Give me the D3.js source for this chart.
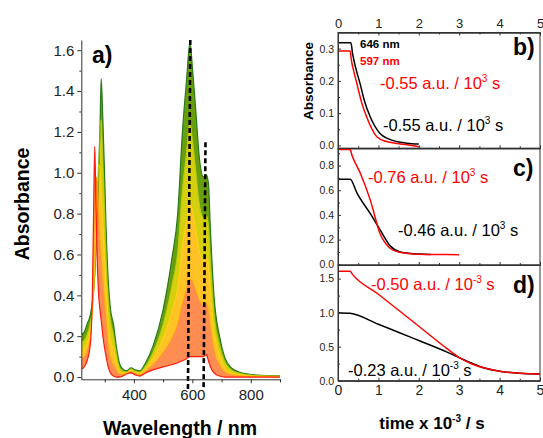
<!DOCTYPE html>
<html>
  <head>
    <meta charset="utf-8">
    <title>Spectra and kinetics</title>
    <style>
      body { margin: 0; background: #fff; }
      text { font-family: "Liberation Sans", Arial, sans-serif; }
      .axis path, .axis line { stroke: #333; stroke-width: 1px; }
      .axis text { fill: #222; }
    </style>
    <script src="https://d3js.org/d3.v7.min.js"></script>
  </head>
  <body>
    <script type="text/javascript">
      // ---- panel a: spectra (wavelength grid + one absorbance array per stage)
      var wl = [222, 230, 240, 250, 254, 258, 262, 266, 270, 274,
                279, 284, 288, 294, 300, 305, 312, 320, 330, 340,
                350, 362, 375, 390, 405, 420, 440, 465, 500, 530,
                550, 566, 580, 592, 600, 612, 625, 638, 648, 655,
                662, 674, 693, 710, 730, 760, 820, 900];
      var specGreen = [0.21, 0.22, 0.26, 0.30, 0.33, 0.37, 0.42, 0.50, 0.62, 0.78,
                       0.98, 1.22, 1.46, 1.25, 0.98, 0.72, 0.48, 0.33, 0.26, 0.15,
                       0.07, 0.04, 0.03, 0.045, 0.035, 0.03, 0.07, 0.15, 0.33, 0.58,
                       0.80, 1.20, 1.45, 1.64, 1.52, 1.30, 1.06, 0.98, 0.99, 0.95,
                       0.72, 0.40, 0.20, 0.10, 0.05, 0.025, 0.01, 0.006];
      var specYellowGreen = [0.17, 0.18, 0.21, 0.26, 0.29, 0.33, 0.40, 0.50, 0.63, 0.78,
                       0.98, 1.20, 1.26, 1.05, 0.82, 0.60, 0.40, 0.28, 0.21, 0.12,
                       0.05, 0.03, 0.025, 0.04, 0.03, 0.025, 0.055, 0.12, 0.26, 0.45,
                       0.62, 0.92, 1.10, 1.25, 1.17, 1.01, 0.84, 0.78, 0.79, 0.75,
                       0.57, 0.32, 0.16, 0.08, 0.04, 0.02, 0.008, 0.005];
      var specYellow = [0.13, 0.14, 0.17, 0.22, 0.26, 0.32, 0.42, 0.56, 0.74, 0.90,
                       1.04, 1.02, 0.92, 0.75, 0.58, 0.44, 0.28, 0.18, 0.14, 0.08,
                       0.03, 0.02, 0.02, 0.035, 0.022, 0.018, 0.04, 0.09, 0.19, 0.32,
                       0.44, 0.64, 0.76, 0.86, 0.82, 0.72, 0.61, 0.57, 0.58, 0.55,
                       0.41, 0.23, 0.11, 0.05, 0.025, 0.012, 0.005, 0.003];
      var specOrange = [0.09, 0.10, 0.13, 0.19, 0.24, 0.36, 0.55, 0.78, 0.98, 0.96,
                       0.80, 0.66, 0.58, 0.46, 0.36, 0.27, 0.16, 0.09, 0.06, 0.035,
                       0.015, 0.012, 0.018, 0.028, 0.016, 0.012, 0.03, 0.06, 0.12, 0.19,
                       0.26, 0.36, 0.43, 0.48, 0.47, 0.42, 0.37, 0.35, 0.36, 0.33,
                       0.24, 0.13, 0.06, 0.025, 0.012, 0.006, 0.002, 0.001];
      var specRed = [0.04, 0.05, 0.08, 0.15, 0.22, 0.42, 0.80, 1.13, 0.85, 0.60,
                       0.41, 0.33, 0.28, 0.20, 0.14, 0.10, 0.05, 0.02, 0.005, 0.0,
                       0.0, 0.005, 0.015, 0.02, 0.01, 0.005, 0.02, 0.035, 0.05, 0.06,
                       0.07, 0.08, 0.09, 0.10, 0.10, 0.10, 0.10, 0.10, 0.11, 0.08,
                       0.05, 0.02, 0.005, 0.0, 0.0, 0.0, 0.0, 0.0];
      var stages = [specGreen, specYellowGreen, specYellow, specOrange, specRed];
      var stageColors = ["#2b7a1a", "#a6c400", "#ffd400", "#ff9c00", "#ff1a0a"];
      var bandOpacity = [1, 0.95, 0.85, 0.7];

      // dashed marker lines at 597 and 646 nm (slightly tilted in the original)
      var markers = [
        {x1: 593, y1: 1.65, x2: 585, y2: -0.07},
        {x1: 645, y1: 1.15, x2: 638.5, y2: -0.065}
      ];

      var xTicksA = [400, 600, 800], xMinorA = [300, 500, 700, 900];
      var yTicksA = [0, 0.2, 0.4, 0.6, 0.8, 1.0, 1.2, 1.4, 1.6];
      var yMinorA = [0.1, 0.3, 0.5, 0.7, 0.9, 1.1, 1.3, 1.5];

      // ---- panels b-d: kinetic traces (time in 10^3 s)
      var bTimeBlack = [0, 0.32, 0.36, 0.45, 0.55, 0.65, 0.8, 1.04, 1.25, 1.45, 1.7, 2.0];
      var bAbsBlack  = [0.318, 0.318, 0.285, 0.235, 0.19, 0.14, 0.088, 0.037, 0.02, 0.012, 0.007, 0.004];
      var bTimeRed   = [0, 0.3, 0.33, 0.4, 0.47, 0.58, 0.71, 0.96, 1.2, 1.45, 1.7, 2.0];
      var bAbsRed    = [0.293, 0.293, 0.265, 0.225, 0.19, 0.135, 0.088, 0.027, 0.012, 0.006, 0.002, -0.004];

      var cTimeBlack = [0, 0.3, 0.47, 0.8, 1.04, 1.29, 1.54, 1.8, 2.04, 2.3];
      var cAbsBlack  = [0.69, 0.69, 0.577, 0.41, 0.28, 0.149, 0.10, 0.088, 0.083, 0.08];
      var cTimeRed   = [0, 0.3, 0.35, 0.55, 0.8, 1.04, 1.29, 1.5, 2.0, 2.5, 3.0];
      var cAbsRed    = [0.93, 0.93, 0.88, 0.74, 0.52, 0.25, 0.13, 0.10, 0.082, 0.079, 0.078];

      var dTimeBlack = [0, 0.3, 1.0, 2.0, 2.7, 3.0, 3.3, 3.6, 4.0, 4.5, 5.0];
      var dAbsBlack  = [1.0, 0.99, 0.83, 0.59, 0.42, 0.34, 0.26, 0.19, 0.14, 0.11, 0.10];
      var dTimeRed   = [0, 0.3, 0.35, 1.0, 2.0, 2.7, 3.0, 3.3, 3.6, 4.0, 4.5, 5.0];
      var dAbsRed    = [1.61, 1.61, 1.57, 1.27, 0.80, 0.47, 0.34, 0.25, 0.19, 0.14, 0.11, 0.10];

      var timeTicks = [0, 1, 2, 3, 4, 5], timeMinor = [0.5, 1.5, 2.5, 3.5, 4.5];

      var svg = d3.select("body").append("svg")
                  .attr("width", 543)
                  .attr("height", 438);
      svg.append("rect").attr("width", 543).attr("height", 438).attr("fill", "#fff");

      // ================= panel a =================
      var xA = d3.scaleLinear().domain([220, 900]).range([81.3, 280]);
      var yA = d3.scaleLinear().domain([-0.011, 1.65]).range([379.3, 40]);
      var idx = d3.range(wl.length);

      for (var k = 0; k < stages.length - 1; k++) {
        var upper = stages[k], lower = stages[k + 1];
        var band = d3.area()
                     .curve(d3.curveMonotoneX)
                     .x(function(i) { return xA(wl[i]); })
                     .y0(function(i) { return yA(lower[i]); })
                     .y1(function(i) { return yA(upper[i]); });
        svg.append("path")
           .attr("d", band(idx))
           .attr("fill", d3.interpolateRgb(stageColors[k], stageColors[k + 1])(0.5))
           .attr("fill-opacity", bandOpacity[k])
           .attr("stroke", "none");
      }
      stages.forEach(function(s, k) {
        var ln = d3.line()
                   .curve(d3.curveMonotoneX)
                   .x(function(i) { return xA(wl[i]); })
                   .y(function(i) { return yA(s[i]); });
        svg.append("path")
           .attr("d", ln(idx))
           .attr("fill", "none")
           .attr("stroke", stageColors[k])
           .attr("stroke-width", k == 0 || k == 4 ? 1.2 : 0.8);
      });

      svg.selectAll(".marker")
         .data(markers)
         .enter().append("line")
           .attr("x1", function(d) { return xA(d.x1); })
           .attr("y1", function(d) { return yA(d.y1); })
           .attr("x2", function(d) { return xA(d.x2); })
           .attr("y2", function(d) { return yA(d.y2); })
           .attr("stroke", "#000")
           .attr("stroke-width", 2.6)
           .attr("stroke-dasharray", "5,3");

      svg.append("g").attr("class", "axis")
         .attr("transform", "translate(" + 81.3 + ",0)")
         .call(d3.axisLeft(yA).tickValues(yTicksA).tickFormat(d3.format(".1f"))
               .tickSizeInner(4).tickSizeOuter(0).tickPadding(3))
         .selectAll("text").style("font-size", "15px");
      svg.append("g").attr("class", "axis")
         .attr("transform", "translate(" + 81.3 + ",0)")
         .call(d3.axisLeft(yA).tickValues(yMinorA).tickFormat("").tickSizeInner(2).tickSizeOuter(0))
         .select(".domain").remove();
      svg.append("g").attr("class", "axis")
         .attr("transform", "translate(0," + 379.3 + ")")
         .call(d3.axisBottom(xA).tickValues(xTicksA).tickFormat(d3.format("d"))
               .tickSizeInner(4).tickSizeOuter(0).tickPadding(6))
         .selectAll("text").style("font-size", "15px");
      svg.append("g").attr("class", "axis")
         .attr("transform", "translate(0," + 379.3 + ")")
         .call(d3.axisBottom(xA).tickValues(xMinorA).tickFormat("").tickSizeInner(3).tickSizeOuter(0))
         .select(".domain").remove();

      svg.append("text").text("a)")
         .attr("x", 92).attr("y", 63)
         .style("font-size", "23px").style("font-weight", "bold");
      svg.append("text").text("Wavelength / nm")
         .attr("x", 180).attr("y", 435).attr("text-anchor", "middle")
         .style("font-size", "19.5px").style("font-weight", "bold");
      svg.append("text").text("Absorbance")
         .attr("transform", "translate(29,204) rotate(-90)").attr("text-anchor", "middle")
         .style("font-size", "19.5px").style("font-weight", "bold");

      // ================= panels b, c, d =================
      var xR = d3.scaleLinear().domain([0, 5]).range([338, 540]);
      var panels = [
        {y: d3.scaleLinear().domain([-0.009, 0.35]).range([148.3, 32.5]),
         ticks: [0, 0.1, 0.2, 0.3], minor: [0.05, 0.15, 0.25],
         black: [bTimeBlack, bAbsBlack], red: [bTimeRed, bAbsRed], label: "b)", labelY: 55},
        {y: d3.scaleLinear().domain([-0.006, 0.94]).range([265, 148.3]),
         ticks: [0, 0.2, 0.4, 0.6, 0.8], minor: [0.1, 0.3, 0.5, 0.7, 0.9],
         black: [cTimeBlack, cAbsBlack], red: [cTimeRed, cAbsRed], label: "c)", labelY: 176},
        {y: d3.scaleLinear().domain([0, 1.70]).range([380.7, 265]),
         ticks: [0, 0.5, 1.0, 1.5], minor: [0.25, 0.75, 1.25],
         black: [dTimeBlack, dAbsBlack], red: [dTimeRed, dAbsRed], label: "d)", labelY: 293}
      ];

      panels.forEach(function(p, n) {
        var y = p.y;
        var top = y.range()[1], bottom = y.range()[0];
        var trace = function(pair, color) {
          var line = d3.line()
                       .curve(d3.curveMonotoneX)
                       .x(function(i) { return xR(pair[0][i]); })
                       .y(function(i) { return y(pair[1][i]); });
          svg.append("path")
             .attr("d", line(d3.range(pair[0].length)))
             .attr("fill", "none")
             .attr("stroke", color)
             .attr("stroke-width", 1.5);
        };
        trace(p.black, "#000");
        trace(p.red, "#ff0000");

        svg.append("g").attr("class", "axis")
           .attr("transform", "translate(" + 338 + ",0)")
           .call(d3.axisLeft(y).tickValues(p.ticks).tickFormat(d3.format(".1f"))
                 .tickSizeInner(-3).tickSizeOuter(0).tickPadding(4))
           .selectAll("text").style("font-size", "10.5px");
        svg.append("g").attr("class", "axis")
           .attr("transform", "translate(" + 338 + ",0)")
           .call(d3.axisLeft(y).tickValues(p.minor).tickFormat("").tickSizeInner(-2).tickSizeOuter(0));
        svg.append("g").attr("class", "axis")
           .attr("transform", "translate(0," + bottom + ")")
           .call(d3.axisBottom(xR).tickValues(timeTicks)
                 .tickFormat(n == 2 ? d3.format("d") : "")
                 .tickSizeInner(-3).tickSizeOuter(0).tickPadding(4))
           .selectAll("text").style("font-size", "14px");
        svg.append("g").attr("class", "axis")
           .attr("transform", "translate(0," + bottom + ")")
           .call(d3.axisBottom(xR).tickValues(timeMinor).tickFormat("").tickSizeInner(-2).tickSizeOuter(0));
        if (n == 0) {
          svg.append("g").attr("class", "axis")
             .attr("transform", "translate(0," + top + ")")
             .call(d3.axisTop(xR).tickValues(timeTicks).tickFormat(d3.format("d"))
                   .tickSizeInner(-3).tickSizeOuter(0).tickPadding(5))
             .selectAll("text").style("font-size", "13px");
          svg.append("g").attr("class", "axis")
             .attr("transform", "translate(0," + top + ")")
             .call(d3.axisTop(xR).tickValues(timeMinor).tickFormat("").tickSizeInner(-2).tickSizeOuter(0));
        }
        svg.append("rect")
           .attr("x", 338).attr("y", top)
           .attr("width", 540 - 338).attr("height", bottom - top)
           .attr("fill", "none").attr("stroke", "#333").attr("stroke-width", 1);

        svg.append("text").text(p.label)
           .attr("x", 513).attr("y", p.labelY)
           .style("font-size", "23px").style("font-weight", "bold");
      });

      // rate annotations
      var rates = [
        {x: 380, y: 89,  color: "#ff0000", text: "-0.55 a.u. / 10", sup: "3"},
        {x: 383, y: 131, color: "#000",    text: "-0.55 a.u. / 10", sup: "3"},
        {x: 368, y: 183, color: "#ff0000", text: "-0.76 a.u. / 10", sup: "3"},
        {x: 398, y: 236, color: "#000",    text: "-0.46 a.u. / 10", sup: "3"},
        {x: 371, y: 290, color: "#ff0000", text: "-0.50 a.u. / 10", sup: "-3"},
        {x: 348, y: 376, color: "#000",    text: "-0.23 a.u. / 10", sup: "-3"}
      ];
      rates.forEach(function(r) {
        var t = svg.append("text")
                   .attr("x", r.x).attr("y", r.y)
                   .attr("fill", r.color)
                   .style("font-size", "16.5px");
        t.append("tspan").text(r.text);
        t.append("tspan").text(r.sup).attr("dy", -7).style("font-size", "10px");
        t.append("tspan").text(" s").attr("dy", 7);
      });

      svg.append("text").text("646 nm")
         .attr("x", 360).attr("y", 48)
         .style("font-size", "11.5px").style("font-weight", "bold");
      svg.append("text").text("597 nm")
         .attr("x", 360).attr("y", 65).attr("fill", "#ff0000")
         .style("font-size", "11.5px").style("font-weight", "bold");
      svg.append("text").text("Absorbance")
         .attr("transform", "translate(313,81) rotate(-90)").attr("text-anchor", "middle")
         .style("font-size", "13.5px").style("font-weight", "bold");

      var tl = svg.append("text")
                  .attr("x", 432).attr("y", 429).attr("text-anchor", "middle")
                  .style("font-size", "17px").style("font-weight", "bold");
      tl.append("tspan").text("time x 10");
      tl.append("tspan").text("-3").attr("dy", -7).style("font-size", "10px");
      tl.append("tspan").text(" / s").attr("dy", 7);
    </script>
  </body>
</html>
